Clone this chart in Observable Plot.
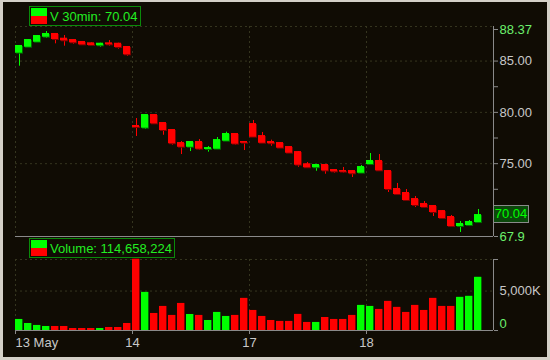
<!DOCTYPE html>
<html>
<head>
<meta charset="utf-8">
<script src="https://cdn.jsdelivr.net/npm/d3@7"></script>
<script src="https://cdn.jsdelivr.net/npm/@observablehq/plot@0.6"></script>
<style>
  html, body { margin: 0; padding: 0; background: #d4d0c8; }
  #frame { position: relative; width: 550px; height: 360px; background: #d4d0c8; overflow: hidden;
           font-family: "Liberation Sans", Arial, sans-serif; }
  #inner { position: absolute; left: 3px; top: 2px; width: 544px; height: 355px; background: #100c04; }
  #frame svg { position: absolute; left: 0; top: 0; }
  .legend { position: absolute; border: 1px solid #0a8a0a; background: #100c04; color: #22ee22;
            font-size: 13px; line-height: 17px; white-space: nowrap; box-sizing: border-box; }
  .legend .sw { position: absolute; left: 1px; width: 16px; }
  .legend .txt { position: absolute; left: 20px; top: 1px; }
  #last { position: absolute; left: 493px; width: 36px; height: 18px; box-sizing: border-box;
          background: #0b480b; border: 1px solid #8a8a8a; color: #00ff00; font-size: 13px;
          line-height: 16px; text-align: center; }
</style>
</head>
<body>
<div id="frame">
  <div id="inner"></div>
</div>
<script>
// ---- data (30-minute bars, 13, 14, 17, 18 May) ----
const open = [85.77, 86.35, 86.84, 87.33, 87.69, 87.23, 87.10, 86.91, 86.78, 86.49, 86.78, 86.74, 86.42,
  78.72, 78.46, 79.79, 79.01, 78.33, 77.06, 76.60, 77.16, 76.38, 76.41, 77.19, 77.94, 77.16,
  78.91, 77.74, 77.16, 77.06, 76.67, 76.18, 74.99, 74.60, 74.92, 74.43, 74.33, 74.33, 74.07,
  74.92, 75.31, 74.33, 72.58, 72.19, 71.60, 71.12, 70.92, 70.43, 69.85, 68.87, 68.97, 69.26];
const close = [86.52, 87.10, 87.49, 87.69, 87.10, 86.97, 86.78, 86.58, 86.52, 86.74, 86.58, 86.32, 85.61,
  78.52, 79.79, 78.88, 78.23, 76.94, 76.60, 77.16, 76.41, 76.57, 77.35, 77.94, 76.90, 76.99,
  77.58, 76.99, 76.94, 76.51, 76.02, 74.85, 74.60, 74.92, 74.29, 74.20, 74.17, 74.01, 74.72,
  75.31, 74.30, 72.48, 71.99, 71.41, 70.92, 70.73, 70.24, 69.65, 68.87, 69.17, 69.36, 70.04];
const high = [86.52, 87.10, 87.49, 87.88, 87.69, 87.49, 87.10, 86.91, 86.78, 86.74, 87.00, 86.74, 86.42,
  79.40, 79.79, 79.79, 79.01, 78.33, 77.16, 77.16, 77.35, 76.67, 77.55, 78.07, 77.94, 77.16,
  79.21, 78.04, 77.29, 77.06, 76.67, 76.18, 75.11, 74.92, 74.92, 74.43, 74.63, 74.33, 74.82,
  75.99, 75.89, 74.33, 73.07, 72.48, 71.80, 71.31, 70.92, 70.43, 69.95, 69.36, 69.46, 70.53];
const low = [84.50, 86.35, 86.84, 87.20, 86.68, 86.45, 86.64, 86.58, 86.52, 86.35, 86.45, 86.16, 85.47,
  77.65, 78.33, 78.88, 77.77, 76.80, 75.89, 76.18, 76.31, 76.12, 76.41, 77.19, 76.80, 76.28,
  77.58, 76.99, 76.70, 76.51, 76.02, 74.65, 74.60, 74.26, 73.97, 74.07, 74.07, 73.65, 74.07,
  74.92, 74.30, 72.19, 71.90, 71.41, 70.73, 70.63, 69.85, 69.56, 68.87, 68.29, 68.87, 69.26];
const volume = [1.40, 0.89, 0.64, 0.51, 0.51, 0.51, 0.25, 0.25, 0.25, 0.25, 0.38, 0.38, 0.89,
  9.03, 4.83, 2.16, 3.05, 1.91, 3.43, 2.03, 1.91, 1.27, 2.29, 1.78, 1.91, 4.07,
  2.54, 1.78, 1.27, 1.15, 1.15, 2.04, 1.02, 1.02, 1.65, 1.40, 1.40, 1.91, 3.18,
  3.05, 2.67, 3.69, 2.93, 2.29, 3.18, 2.54, 4.07, 3.05, 3.05, 4.20, 4.33, 6.74].map(v => v * 1e6);

const dayStart = [0, 13, 26, 39];
const dayLabels = ["13 May", "14", "17", "18"];
const priceTicks = [85, 80, 75];
const priceMinorTicks = [82.5, 77.5, 72.5];
const priceRange = [67.9, 88.37];
const volumeTicks = [5e6];
const volumeMax = 9e6;
const priceLegend = "V 30min: 70.04";
const volumeLegend = "Volume: 114,658,224";

// ---- styling ----
const GREEN = "#00ff00", RED = "#ff0000";
const GREEN_DK = "#006a00", RED_DK = "#7a0000";
const AXIS = "#8a8a8a", LABEL = "#c8c8c8", LABEL_G = "#6cf06c", GRID = "#35351f";
const FONT = "'Liberation Sans', Arial, sans-serif";

const N = open.length;
const idx = d3.range(N);
const up = i => close[i] >= open[i];
const xDom = [0, 478 / 9]; // slots of the time axis, right end = price axis
const bodyW = 7 / 9, wickX = 4 / 9;

const common = {
  width: 550, marginLeft: 15, marginRight: 57,
  style: {background: "transparent", fontFamily: FONT, fontSize: "13px", overflow: "visible"},
  x: {domain: xDom, axis: null}
};
const dotted = {stroke: GRID, strokeOpacity: 1, strokeDasharray: "2,3"};

// ---- price panel ----
const price = Plot.plot({
  ...common,
  height: 250, marginTop: 26, marginBottom: 14,
  y: {domain: priceRange, axis: null},
  marks: [
    Plot.gridY([priceRange[1], ...priceTicks], dotted),
    Plot.gridX(dayStart, dotted),
    Plot.ruleY([priceRange[0]], {stroke: AXIS}),
    Plot.ruleX([xDom[1]], {stroke: AXIS}),
    Plot.axisY(priceTicks, {anchor: "right", tickSize: 4, tickPadding: 2, stroke: AXIS, fill: LABEL,
      tickFormat: d => d.toFixed(2)}),
    Plot.axisY(priceMinorTicks, {anchor: "right", tickSize: 4, stroke: AXIS, fill: "none", tickFormat: () => ""}),
    Plot.axisY([priceRange[1]], {anchor: "right", tickSize: 4, tickPadding: 2, stroke: AXIS, fill: LABEL_G,
      dy: 3, tickFormat: d => String(d)}),
    Plot.axisY([priceRange[0]], {anchor: "right", tickSize: 4, tickPadding: 2, stroke: AXIS, fill: LABEL_G,
      tickFormat: d => String(d)}),
    Plot.ruleX(idx, {x: i => i + wickX, y1: i => low[i], y2: i => high[i],
      stroke: i => up(i) ? GREEN : RED}),
    Plot.rect(idx, {x1: i => i, x2: i => i + bodyW, y1: i => open[i], y2: i => close[i],
      fill: i => up(i) ? GREEN_DK : RED_DK, dx: 1, dy: 1}),
    Plot.rect(idx, {x1: i => i, x2: i => i + bodyW, y1: i => open[i], y2: i => close[i],
      fill: i => up(i) ? GREEN : RED})
  ]
});

// ---- volume panel ----
const vol = Plot.plot({
  ...common,
  height: 360, marginTop: 259, marginBottom: 30,
  y: {domain: [0, volumeMax], axis: null},
  marks: [
    Plot.gridY([volumeMax, ...volumeTicks], dotted),
    Plot.gridX(dayStart, dotted),
    Plot.rect(idx, {x1: i => i, x2: i => i + bodyW, y1: 0, y2: i => volume[i],
      fill: i => up(i) ? GREEN_DK : RED_DK, dx: 1}),
    Plot.rect(idx, {x1: i => i, x2: i => i + bodyW, y1: 0, y2: i => volume[i],
      fill: i => up(i) ? GREEN : RED}),
    Plot.ruleY([0], {stroke: AXIS}),
    Plot.ruleX([xDom[1]], {stroke: AXIS}),
    Plot.axisY([0, volumeMax], {anchor: "right", tickSize: 4, stroke: AXIS, fill: "none", tickFormat: () => ""}),
    Plot.axisY(volumeTicks, {anchor: "right", tickSize: 0, tickPadding: 6, fill: LABEL,
      tickFormat: d => d3.format(",")(d / 1000) + "K"}),
    Plot.axisY([0], {anchor: "right", tickSize: 0, tickPadding: 6, fill: LABEL_G, dy: -7,
      tickFormat: d => String(d)}),
    Plot.axisX(dayStart.slice(0, 1), {anchor: "bottom", tickSize: 4, tickPadding: 3, stroke: AXIS, fill: LABEL,
      textAnchor: "start", tickFormat: d => dayLabels[dayStart.indexOf(d)]}),
    Plot.axisX(dayStart.slice(1), {anchor: "bottom", tickSize: 4, tickPadding: 3, stroke: AXIS, fill: LABEL,
      tickFormat: d => dayLabels[dayStart.indexOf(d)]})
  ]
});

const frame = document.getElementById("frame");
frame.appendChild(price);
frame.appendChild(vol);

// legends
function legend(left, top, w, h, text) {
  const d = document.createElement("div");
  d.className = "legend";
  Object.assign(d.style, {left: left + "px", top: top + "px", width: w + "px", height: h + "px"});
  const g = document.createElement("div"); g.className = "sw";
  Object.assign(g.style, {top: "1px", height: "8px", background: GREEN});
  const r = document.createElement("div"); r.className = "sw";
  Object.assign(r.style, {top: "9px", height: "8px", background: RED});
  const t = document.createElement("div"); t.className = "txt"; t.textContent = text;
  d.append(g, r, t);
  frame.appendChild(d);
}
legend(29, 6, 112, 20, priceLegend);
legend(29, 238, 146, 20, volumeLegend);

// last price box on the price axis
const last = document.createElement("div");
last.id = "last";
last.textContent = close[N - 1].toFixed(2);
last.style.top = (price.scale("y").apply(close[N - 1]) - 9) + "px";
frame.appendChild(last);
</script>
</body>
</html>
